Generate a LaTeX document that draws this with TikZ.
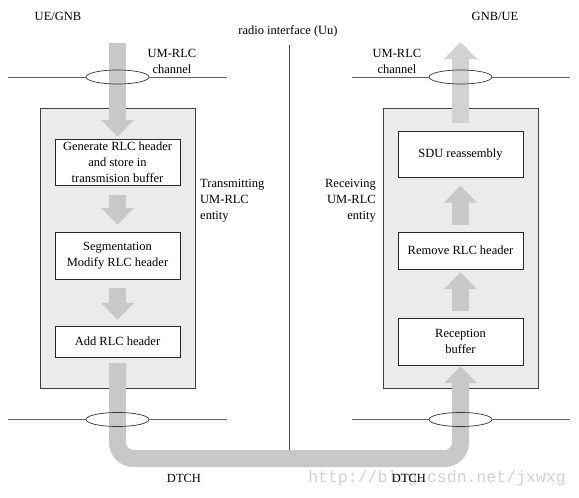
\documentclass[tikz,border=0pt]{standalone}
\usepackage{fontspec}
\setmainfont{Liberation Serif}
\newfontfamily\markfont{Liberation Mono}
\usetikzlibrary{arrows.meta,shapes.geometric}
\definecolor{bandgray}{HTML}{C8C8C8}
\definecolor{bandlight}{HTML}{D2D2D2}
\definecolor{entityfill}{HTML}{EBEBEB}
\tikzset{
  entity/.style={draw=black!75, fill=entityfill, minimum width=155pt, minimum height=280pt, inner sep=0pt},
  stage/.style={draw=black!85, fill=white, minimum width=125pt, align=center, inner sep=0pt,
                font=\fontsize{12.5}{16}\selectfont},
  flow/.style={draw=bandgray, line width=17pt, -{Triangle[width=32pt,length=17pt]}},
  chan/.style={draw=black!60, line width=0.8pt},
  ring/.style={ellipse, draw=black!80, line width=0.7pt, minimum width=63pt, minimum height=14pt, inner sep=0pt},
  lbl/.style={font=\fontsize{12.5}{16}\selectfont, inner sep=0pt},
}
\begin{document}
\begin{tikzpicture}[x=1pt, y=-1pt]
    \useasboundingbox (0,0) rectangle (579,498);

    % Entities
    \node[entity] (tx) at (117.5,248) {};
    \node[entity] (rx) at (460.5,248) {};

    % Separator
    \draw[draw=black!70, line width=0.8pt] (289,45) -- (289,452);

    % Stages
    \node[stage, minimum height=46pt] (gen) at (117.5,162) {Generate RLC header\\and store in\\transmision buffer};
    \node[stage, minimum height=47pt] (seg) at (117.5,255.5) {Segmentation\\Modify RLC header};
    \node[stage, minimum height=31pt] (add) at (117.5,341.5) {Add RLC header};

    \node[stage, minimum height=46pt] (sdu) at (460.5,154.5) {SDU reassembly};
    \node[stage, minimum height=37pt] (rem) at (460.5,250.5) {Remove RLC header};
    \node[stage, minimum height=47pt] (buf) at (460.5,341.5) {Reception\\buffer};

    % Flows
    \coordinate (inL) at (117.5,43);
    \coordinate (outR) at (460.5,42);
    \coordinate (bendL) at (117.5,458.5);
    \coordinate (bendR) at (460.5,458.5);
    \draw[flow, shorten >=2pt] (inL) -- (gen);
    \draw[flow, shorten <=10pt, shorten >=7pt] (gen) -- (seg);
    \draw[flow, shorten <=9pt, shorten >=6pt] (seg) -- (add);
    \draw[flow, rounded corners=16pt, shorten <=6pt, shorten >=1pt] (add.south) -- (bendL) -- (bendR) -- (buf.south);
    \draw[flow, shorten <=7pt, shorten >=3pt] (buf) -- (rem);
    \draw[flow, shorten <=7pt, shorten >=8pt] (rem) -- (sdu);
    \draw[flow, draw=bandlight, shorten <=8pt] (sdu) -- (outR);

    % Channels over the flows
    \node[ring] (chTL) at (117.5,77) {};
    \node[ring] (chTR) at (460.5,77) {};
    \node[ring] (chBL) at (117.5,419.5) {};
    \node[ring] (chBR) at (460.5,419.5) {};
    \draw[chan] (8,77) -- (chTL.west);
    \draw[chan] (chTL.east) -- (227,77);
    \draw[chan] (352,77) -- (chTR.west);
    \draw[chan] (chTR.east) -- (570,77);
    \draw[chan] (8,419.5) -- (chBL.west);
    \draw[chan] (chBL.east) -- (227,419.5);
    \draw[chan] (352,419.5) -- (chBR.west);
    \draw[chan] (chBR.east) -- (570,419.5);

    % Labels
    \node[lbl] (ueL) at (58,16) {UE/GNB};
    \node[lbl] (ueR) at (495,16) {GNB/UE};
    \node[lbl] (uu) at (288,31) {radio interface (Uu)};
    \node[lbl, align=center] (chanL) at (172,61) {UM-RLC\\channel};
    \node[lbl, align=center] (chanR) at (397,61) {UM-RLC\\channel};
    \node[lbl, align=left, anchor=west] (txlbl) at (200,201) {Transmitting\\UM-RLC\\entity};
    \node[lbl, align=right, anchor=east] (rxlbl) at (376,201) {Receiving\\UM-RLC\\entity};
    \node[font=\markfont\fontsize{16.5}{18}\selectfont, text=black!18, inner sep=0pt] (mark) at (437,478) {http://blog.csdn.net/jxwxg};
    \node[lbl] (dtchL) at (184,478) {DTCH};
    \node[lbl] (dtchR) at (409,478) {DTCH};
\end{tikzpicture}
\end{document}
